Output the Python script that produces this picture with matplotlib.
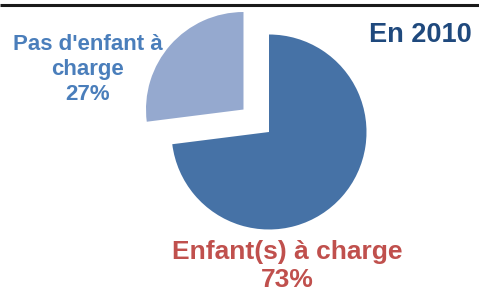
import matplotlib
matplotlib.use("Agg")
import matplotlib.pyplot as plt

categories = ["Enfant(s) à charge", "Pas d'enfant à\ncharge"]
values = [73, 27]
pct_labels = ["73%", "27%"]
title = "En 2010"

W, H = 479, 287
fig = plt.figure(figsize=(W / 100, H / 100), dpi=100)
ax = fig.add_axes([0, 0, 1, 1])

cx, cy, r = 269, H - 132, 97.5
wedges, _ = ax.pie(values, colors=["#4672A6", "#95A9CF"], startangle=90,
                   counterclock=False, explode=[0, 34], radius=r,
                   center=(cx, cy), frame=True)
ax.set_xlim(0, W)
ax.set_ylim(0, H)
ax.set_aspect("equal")
ax.axis("off")

ax.plot([0, W], [H - 5, H - 5], color="#1a1a1a", lw=2.2, solid_capstyle="butt")

fam = ["Liberation Sans", "DejaVu Sans"]
ax.text(88, H - 69, categories[1] + "\n" + pct_labels[1], ha="center", va="center",
        fontsize=16, fontweight="bold", color="#4A7EBB", family=fam,
        linespacing=1.25)
ax.text(287, H - 266, categories[0] + "\n" + pct_labels[0], ha="center", va="center",
        fontsize=19, fontweight="bold", color="#C0504D", family=fam,
        linespacing=1.2, clip_on=False)
ax.text(420, H - 35, title, ha="center", va="center", fontsize=19.5,
        fontweight="bold", color="#1F497D", family=fam)

fig.savefig("out.png", dpi=100)
